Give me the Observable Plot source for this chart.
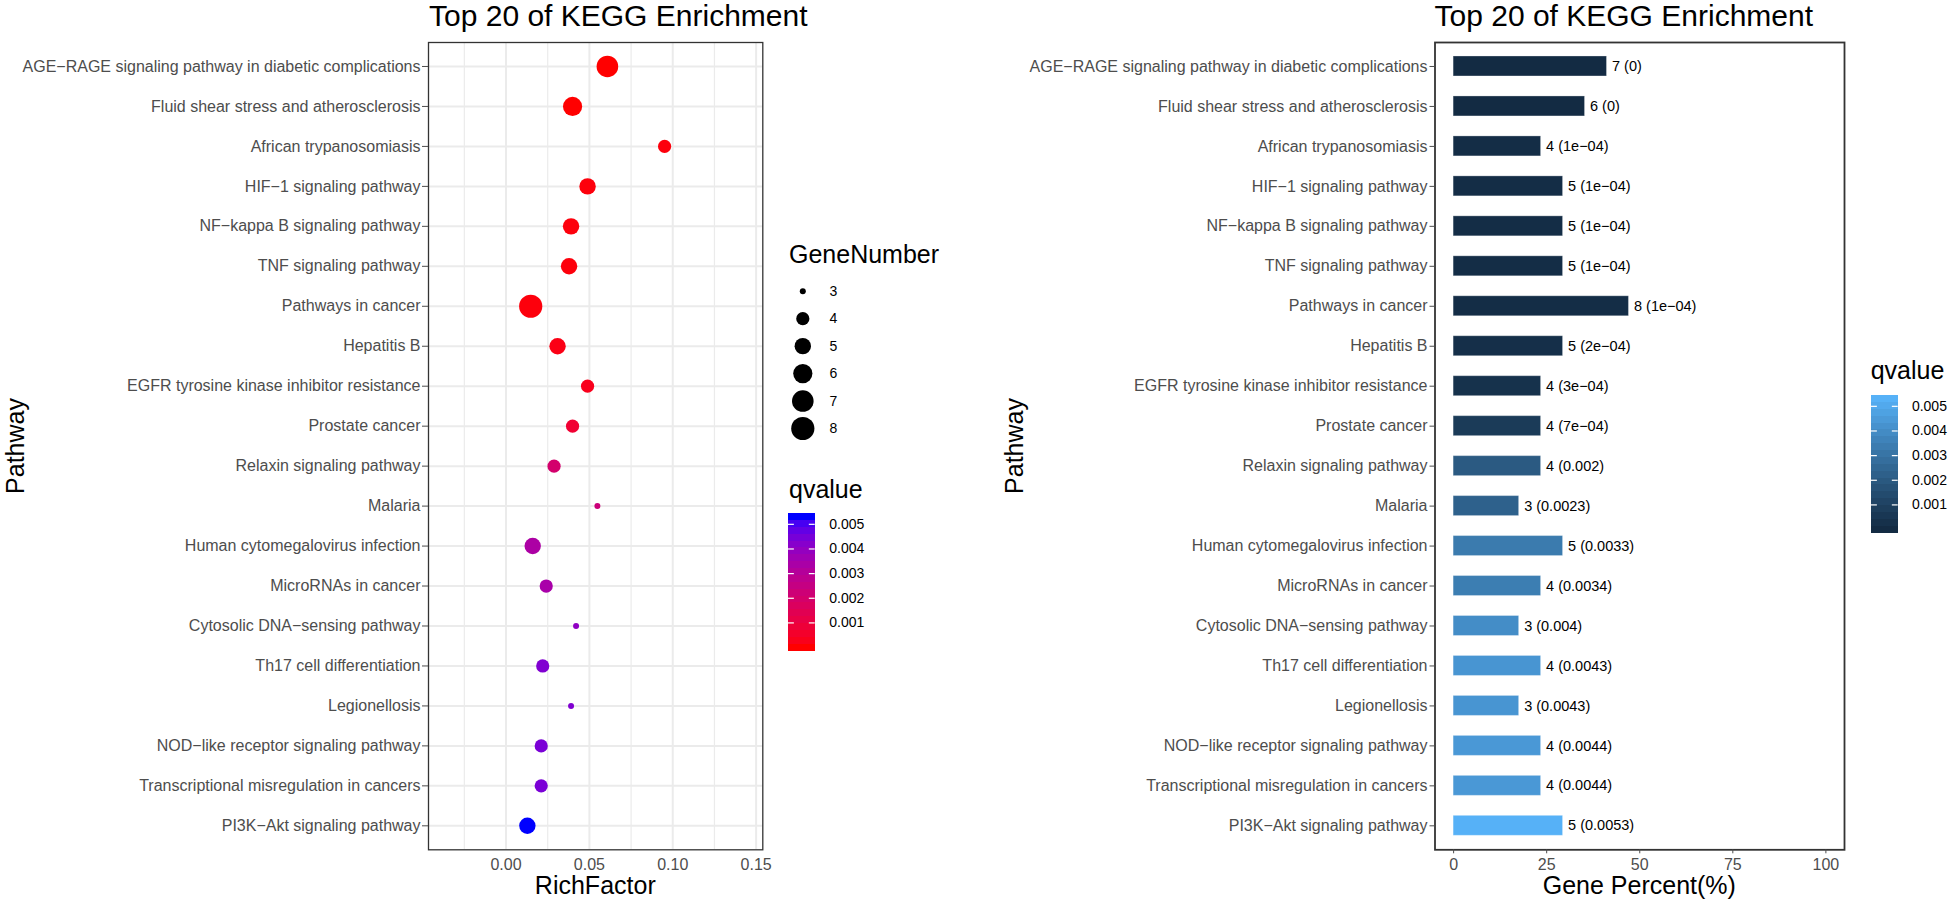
<!DOCTYPE html>
<html><head><meta charset="utf-8">
<script src="https://cdn.jsdelivr.net/npm/d3@7"></script>
<script src="https://cdn.jsdelivr.net/npm/@observablehq/plot@0.6"></script>
<style>
body{margin:0;background:#fff;}
#root{position:relative;width:1952px;height:900px;overflow:hidden;}
#root > svg{position:absolute;max-width:none;}
</style></head><body><div id="root"></div>
<script>
// ---- data ----
const pathways = [
  "AGE-RAGE signaling pathway in diabetic complications",
  "Fluid shear stress and atherosclerosis",
  "African trypanosomiasis",
  "HIF-1 signaling pathway",
  "NF-kappa B signaling pathway",
  "TNF signaling pathway",
  "Pathways in cancer",
  "Hepatitis B",
  "EGFR tyrosine kinase inhibitor resistance",
  "Prostate cancer",
  "Relaxin signaling pathway",
  "Malaria",
  "Human cytomegalovirus infection",
  "MicroRNAs in cancer",
  "Cytosolic DNA-sensing pathway",
  "Th17 cell differentiation",
  "Legionellosis",
  "NOD-like receptor signaling pathway",
  "Transcriptional misregulation in cancers",
  "PI3K-Akt signaling pathway"
];
const geneNumber = [7, 6, 4, 5, 5, 5, 8, 5, 4, 4, 4, 3, 5, 4, 3, 4, 3, 4, 4, 5];
const qvalue = [0, 0, 0.0001, 0.0001, 0.0001, 0.0001, 0.0001, 0.0002, 0.0003, 0.0007,
                0.002, 0.0023, 0.0033, 0.0034, 0.004, 0.0043, 0.0043, 0.0044, 0.0044, 0.0053];
const richFactor = [0.0608, 0.0399, 0.0951, 0.0489, 0.0390, 0.0378, 0.0148, 0.0309, 0.0489, 0.0399,
                    0.0288, 0.0548, 0.0160, 0.0241, 0.0420, 0.0220, 0.0390, 0.0211, 0.0211, 0.0128];
const genePercent = [41.2, 35.3, 23.5, 29.4, 29.4, 29.4, 47.1, 29.4, 23.5, 23.5,
                     23.5, 17.6, 29.4, 23.5, 17.6, 23.5, 17.6, 23.5, 23.5, 29.4];
const geneLevels = [3, 4, 5, 6, 7, 8];
const qTicks = [0.001, 0.002, 0.003, 0.004, 0.005];
const richMajor = [0, 0.05, 0.10, 0.15];
const richMinor = [-0.025, 0.025, 0.075, 0.125];
const pctTicks = [0, 25, 50, 75, 100];

// ---- helpers ----
const FONT = '"Liberation Sans", Arial, Helvetica, sans-serif';
const data = pathways.map((p, i) => ({pathway: p, rich: richFactor[i], n: geneNumber[i], q: qvalue[i], pct: genePercent[i]}));
const minus = s => String(s).replace(/-/g, "\u2212");
const fmtQ = q => q === 0 ? "0" : q < 0.001 ? q.toExponential(0).replace(/e-(\d)$/, "e-0$1") : String(q);
const qDomain = d3.extent(qvalue);
const rScale = {type: "linear", domain: geneLevels, range: [3, 6.6, 8.2, 9.6, 10.8, 11.6]};
const leftColor = {type: "linear", domain: qDomain, range: ["red", "blue"], interpolate: "lab"};
const rightColor = {type: "linear", domain: qDomain, range: ["#132B43", "#56B1F7"], interpolate: "lab"};
const baseStyle = {fontFamily: FONT, fontSize: "16px", background: "transparent", overflow: "visible"};
const TICK_FS = 16;
const root = document.getElementById("root");
function place(svg, left, top) {
  svg.style.left = left + "px";
  svg.style.top = top + "px";
  root.appendChild(svg);
}

// ---- left: dot plot ----
const left = Plot.plot({
  width: 780, height: 900,
  marginLeft: 428, marginRight: 17.7, marginTop: 42, marginBottom: 50.7,
  style: baseStyle,
  x: {domain: [-0.0465, 0.154]},
  y: {type: "point", domain: pathways, padding: 0.6, round: false},
  r: rScale,
  color: leftColor,
  marks: [
    Plot.ruleX(richMinor, {stroke: "#EBEBEB", strokeWidth: 1.2}),
    Plot.ruleX(richMajor, {stroke: "#EBEBEB", strokeWidth: 2}),
    Plot.ruleY(pathways, {stroke: "#EBEBEB", strokeWidth: 2}),
    Plot.dot(data, {x: "rich", y: "pathway", r: "n", fill: "q"}),
    Plot.frame({stroke: "#333333", strokeWidth: 1.3}),
    Plot.axisY({tickSize: 6, tickPadding: 2, fontSize: TICK_FS, color: "#4D4D4D", label: null, tickFormat: minus}),
    Plot.axisX({ticks: richMajor, tickSize: 0, tickPadding: 9, fontSize: TICK_FS, color: "#4D4D4D", label: null, tickFormat: d3.format(".2f")})
  ]
});
place(left, 0, 0);

// ---- left legends ----
const sizeLegend = Plot.plot({
  width: 80, height: 164.75, margin: 0, marginLeft: 22.3,
  style: baseStyle,
  y: {type: "point", domain: geneLevels, padding: 0.5, round: false, axis: null},
  r: rScale,
  marks: [
    Plot.dot(geneLevels, {y: d => d, r: d => d, fill: "black", frameAnchor: "left"}),
    Plot.text(geneLevels, {y: d => d, text: d => String(d), frameAnchor: "left", dx: 26.7, textAnchor: "start", fontSize: 14, fill: "black"})
  ]
});
place(sizeLegend, 780, 277.25);

const nbin = 20;
const binStep = (qDomain[1] - qDomain[0]) / (nbin - 1);
const bins = d3.range(nbin).map(i => qDomain[0] + i * binStep);
function colorBar(colorOpts, labelDx) {
  return Plot.plot({
    width: 90, height: 137.5, margin: 0,
    style: baseStyle,
    x: {domain: [0, 1], range: [0, 26.7], axis: null},
    y: {domain: [qDomain[0] - binStep / 2, qDomain[1] + binStep / 2], range: [137.5, 0], axis: null},
    color: colorOpts,
    marks: [
      Plot.rect(bins, {x1: 0, x2: 1, y1: d => d - binStep / 2, y2: d => d + binStep / 2, fill: d => d, shapeRendering: "crispEdges"}),
      Plot.ruleY(qTicks, {x1: 0, x2: 0.22, stroke: "white", strokeWidth: 1.2}),
      Plot.ruleY(qTicks, {x1: 0.78, x2: 1, stroke: "white", strokeWidth: 1.2}),
      Plot.text(qTicks, {x: 1, y: d => d, dx: labelDx, text: d => d.toFixed(3), textAnchor: "start", fontSize: 14, fill: "black"})
    ]
  });
}
place(colorBar(leftColor, 14), 788.3, 513);

// ---- right: bar plot ----
const right = Plot.plot({
  width: 870, height: 900,
  marginLeft: 444.5, marginRight: 16, marginTop: 42, marginBottom: 50.7,
  style: baseStyle,
  x: {domain: [-5, 105]},
  y: {type: "band", domain: pathways, paddingInner: 0.5, paddingOuter: 0.35, round: false},
  color: rightColor,
  marks: [
    Plot.barX(data, {x: "pct", y: "pathway", fill: "q", stroke: "white", strokeOpacity: 0.3, strokeWidth: 1}),
    Plot.text(data, {x: "pct", y: "pathway", text: d => minus(`${d.n} (${fmtQ(d.q)})`), textAnchor: "start", dx: 5, fontSize: 14.5, fill: "black"}),
    Plot.frame({stroke: "#333333", strokeWidth: 1.8}),
    Plot.axisY({tickSize: 5, tickPadding: 2.5, fontSize: TICK_FS, color: "#4D4D4D", label: null, tickFormat: minus}),
    Plot.axisX({ticks: pctTicks, tickSize: 4, tickPadding: 5, fontSize: TICK_FS, color: "#4D4D4D", label: null})
  ]
});
place(right, 990, 0);
place(colorBar(rightColor, 13.7), 1870.7, 395);

// ---- titles (text overlay) ----
const ov = d3.create("svg").attr("width", 1952).attr("height", 900)
  .style("left", "0px").style("top", "0px").style("pointer-events", "none")
  .attr("font-family", FONT).attr("fill", "black");
const T = (x, y, s, size, anchor = "start", rot = 0) => ov.append("text")
  .attr("transform", `translate(${x},${y}) rotate(${rot})`)
  .attr("font-size", size).attr("text-anchor", anchor).text(s);
T(429, 25.5, "Top 20 of KEGG Enrichment", 30);
T(1434.5, 25.5, "Top 20 of KEGG Enrichment", 30);
T(595.3, 894, "RichFactor", 25, "middle");
T(1639.3, 894, "Gene Percent(%)", 25, "middle");
T(23.5, 446, "Pathway", 25, "middle", -90);
T(1022.7, 446, "Pathway", 25, "middle", -90);
T(789, 262.7, "GeneNumber", 25);
T(789, 497.7, "qvalue", 25);
T(1870.7, 379.3, "qvalue", 25);
root.appendChild(ov.node());
</script>
</body></html>
